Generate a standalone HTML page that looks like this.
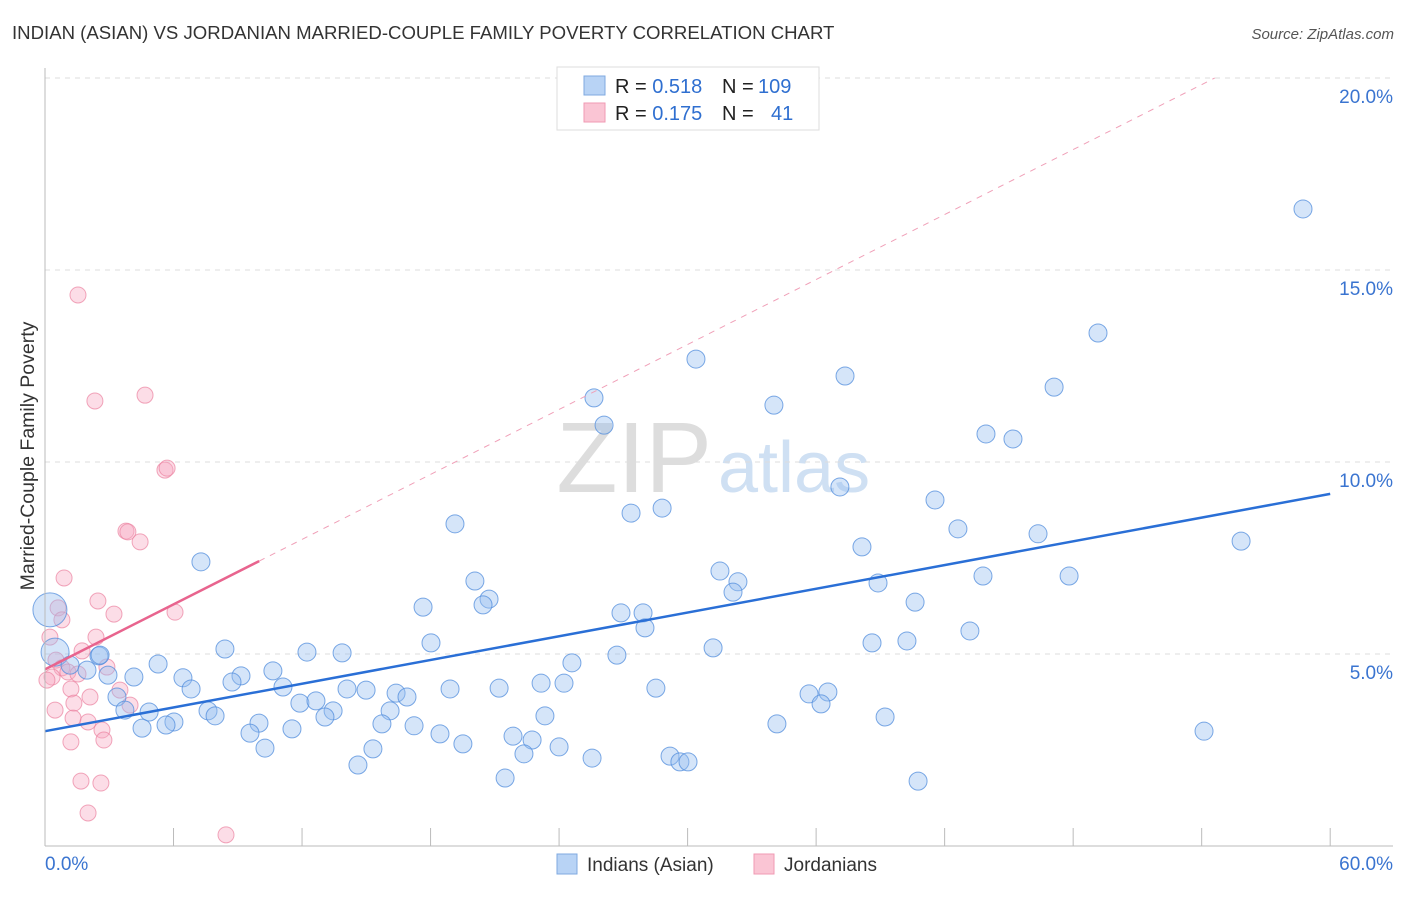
<!DOCTYPE html>
<html><head><meta charset="utf-8"><style>
body{margin:0;background:#fff;font-family:"Liberation Sans",sans-serif}
svg text{font-family:"Liberation Sans",sans-serif}
</style></head><body>
<svg id="c" width="1406" height="892">
<text x="12" y="39" font-size="18.6" fill="#333">INDIAN (ASIAN) VS JORDANIAN MARRIED-COUPLE FAMILY POVERTY CORRELATION CHART</text>
<text x="1394" y="39" font-size="15" fill="#555" text-anchor="end" font-style="italic">Source: ZipAtlas.com</text>
<text x="712" y="492" font-size="100" fill="#ddd" text-anchor="end" font-family="Liberation Serif">ZIP</text>
<text x="718" y="492" font-size="72" fill="#cfe0f3">atlas</text>
<text transform="translate(34,456) rotate(-90)" font-size="19.5" fill="#333" text-anchor="middle">Married-Couple Family Poverty</text>
<g id="grid"></g><g id="marks"></g><g id="axes"></g>
<g>
<rect x="557" y="67" width="262" height="63" fill="#fff" stroke="#ddd"/>
<rect x="584" y="76" width="21" height="19" fill="#b8d3f5" stroke="#7fa9e0"/>
<rect x="584" y="103" width="21" height="19" fill="#fac5d4" stroke="#f09ab3"/>
<text x="615" y="93" font-size="20" fill="#222">R = <tspan fill="#2f6fd0">0.518</tspan><tspan x="722">N = </tspan><tspan fill="#2f6fd0" x="758">109</tspan></text>
<text x="615" y="120" font-size="20" fill="#222">R = <tspan fill="#2f6fd0">0.175</tspan><tspan x="722">N = </tspan><tspan fill="#2f6fd0" x="771">41</tspan></text>
</g>
<g>
<rect x="557" y="854" width="20" height="20" fill="#b8d3f5" stroke="#7fa9e0"/>
<text x="587" y="871" font-size="19" fill="#333">Indians (Asian)</text>
<rect x="754" y="854" width="20" height="20" fill="#fac5d4" stroke="#f09ab3"/>
<text x="784" y="871" font-size="19" fill="#333">Jordanians</text>
</g>
</svg>
<script>
const blueX=[58.73,49.16,30.39,37.35,47.11,25.63,34.03,26.10,43.93,45.19,37.11,41.55,19.14,28.81,27.36,42.62,46.36,55.84,38.14,7.28,31.51,20.07,47.81,43.79,32.35,38.89,32.12,20.73,20.45,40.62,17.65,26.89,27.92,28.01,43.18,18.02,38.61,40.24,8.40,31.19,12.23,13.87,26.70,2.52,5.28,24.60,10.64,2.94,4.15,9.15,6.44,8.73,11.11,6.82,14.10,14.99,18.91,21.20,23.16,24.23,28.52,16.39,16.90,35.67,36.55,36.23,11.90,12.65,3.36,3.73,7.61,4.86,13.45,16.11,13.07,7.94,23.34,39.22,6.02,5.65,4.53,9.99,11.53,15.73,17.23,34.17,54.11,9.57,18.44,21.85,22.74,19.51,10.27,15.31,24.00,22.36,29.18,29.64,30.02,25.54,14.61,21.48,40.76,0.23,0.47,1.17,1.96,2.57];
const blueY=[16.59,13.36,12.68,12.24,11.95,11.67,11.48,10.96,10.73,10.60,9.35,9.01,8.39,8.80,8.67,8.26,8.13,7.94,7.79,7.40,7.16,6.90,7.03,7.03,6.88,6.85,6.61,6.43,6.28,6.35,6.22,6.07,6.07,5.68,5.60,5.29,5.29,5.34,5.13,5.16,5.05,5.03,4.97,4.95,4.74,4.77,4.56,4.45,4.40,4.43,4.38,4.27,4.14,4.09,4.09,4.06,4.09,4.11,4.24,4.24,4.11,3.98,3.88,3.96,4.01,3.70,3.72,3.78,3.88,3.54,3.52,3.49,3.52,3.52,3.36,3.39,3.39,3.36,3.23,3.15,3.07,3.20,3.05,3.18,3.13,3.18,2.99,2.94,2.92,2.86,2.76,2.66,2.55,2.53,2.58,2.40,2.34,2.19,2.19,2.29,2.11,1.77,1.69,6.15,5.05,4.71,4.58,4.97];
const blueR=blueX.map((v,i)=>i==103?17:(i==104?14:9));
const pinkX=[1.54,4.67,2.33,5.60,5.70,3.78,3.87,4.44,0.89,0.61,2.47,3.22,0.79,6.07,0.23,2.38,1.73,0.51,0.79,1.07,0.33,0.09,1.54,2.89,1.21,2.10,3.50,3.97,0.47,1.35,1.31,2.01,2.66,1.21,2.75,1.68,2.61,2.01,8.45];
const pinkY=[14.35,11.74,11.59,9.79,9.84,8.20,8.18,7.92,6.98,6.20,6.38,6.04,5.89,6.09,5.44,5.44,5.08,4.84,4.64,4.53,4.40,4.32,4.48,4.66,4.09,3.88,4.06,3.67,3.54,3.72,3.33,3.23,3.02,2.71,2.76,1.69,1.64,0.86,0.29];
const blueTrend=[2.99,0.103]; // intercept, slope
const pinkTrend=[4.6,0.282];
const yTicks=[5,10,15,20];
const xTicks=[0,6,12,18,24,30,36,42,48,54,60];
const X=v=>45+v*21.42, Y=v=>846-v*38.4;
const NS='http://www.w3.org/2000/svg';
function mk(p,t,a){const e=document.createElementNS(NS,t);for(const k in a)e.setAttribute(k,a[k]);p.appendChild(e);return e;}
const grid=document.getElementById('grid'),marks=document.getElementById('marks'),axes=document.getElementById('axes');
yTicks.forEach(t=>{
 const l=mk(grid,'line',{x1:45,x2:1393,y1:Y(t),y2:Y(t),stroke:'#ddd','stroke-dasharray':'5,5'});
 
 
 const tx=mk(axes,'text',{x:1393,y:Y(t)+25,'font-size':19,fill:'#3a74d0','text-anchor':'end'});
 tx.textContent=t.toFixed(1)+'%';
 
 
});
xTicks.forEach(t=>{
 if(t===0)return;
 const l=mk(axes,'line',{x1:X(t),x2:X(t),y1:828,y2:846,stroke:'#bbb'});
 
 
});
mk(axes,'line',{x1:45,x2:45,y1:68,y2:846,stroke:'#bbb'});
mk(axes,'line',{x1:45,x2:1393,y1:846,y2:846,stroke:'#bbb'});
[[0,45,'start'],[60,1393,'end']].forEach(([v,x,a])=>{
 const tx=mk(axes,'text',{x:x,y:870,'font-size':19,fill:'#3a74d0','text-anchor':a});
 tx.textContent=v.toFixed(1)+'%';
 
 
});
pinkX.forEach((v,i)=>{
 const c=mk(marks,'circle',{cx:X(v),cy:Y(pinkY[i]),r:8,fill:'rgba(248,170,195,0.4)',stroke:'rgba(235,130,160,0.7)','stroke-width':1});
 
 
});
blueX.forEach((v,i)=>{
 const c=mk(marks,'circle',{cx:X(v),cy:Y(blueY[i]),r:blueR[i],fill:'rgba(150,190,240,0.4)',stroke:'rgba(80,140,220,0.75)','stroke-width':1});
 
 
});
const pEnd=(20-pinkTrend[0])/pinkTrend[1];
const pd=mk(marks,'line',{x1:X(10),y1:Y(pinkTrend[0]+pinkTrend[1]*10),x2:X(pEnd),y2:Y(20),stroke:'#f0a0b8','stroke-dasharray':'6,6','stroke-width':1});


const ps=mk(marks,'line',{x1:X(0),y1:Y(pinkTrend[0]),x2:X(10),y2:Y(pinkTrend[0]+pinkTrend[1]*10),stroke:'#e8648e','stroke-width':2.5});


const bl=mk(marks,'line',{x1:X(0),y1:Y(blueTrend[0]),x2:X(60),y2:Y(blueTrend[0]+blueTrend[1]*60),stroke:'#2a6fd6','stroke-width':2.5});


</script>
</body></html>
